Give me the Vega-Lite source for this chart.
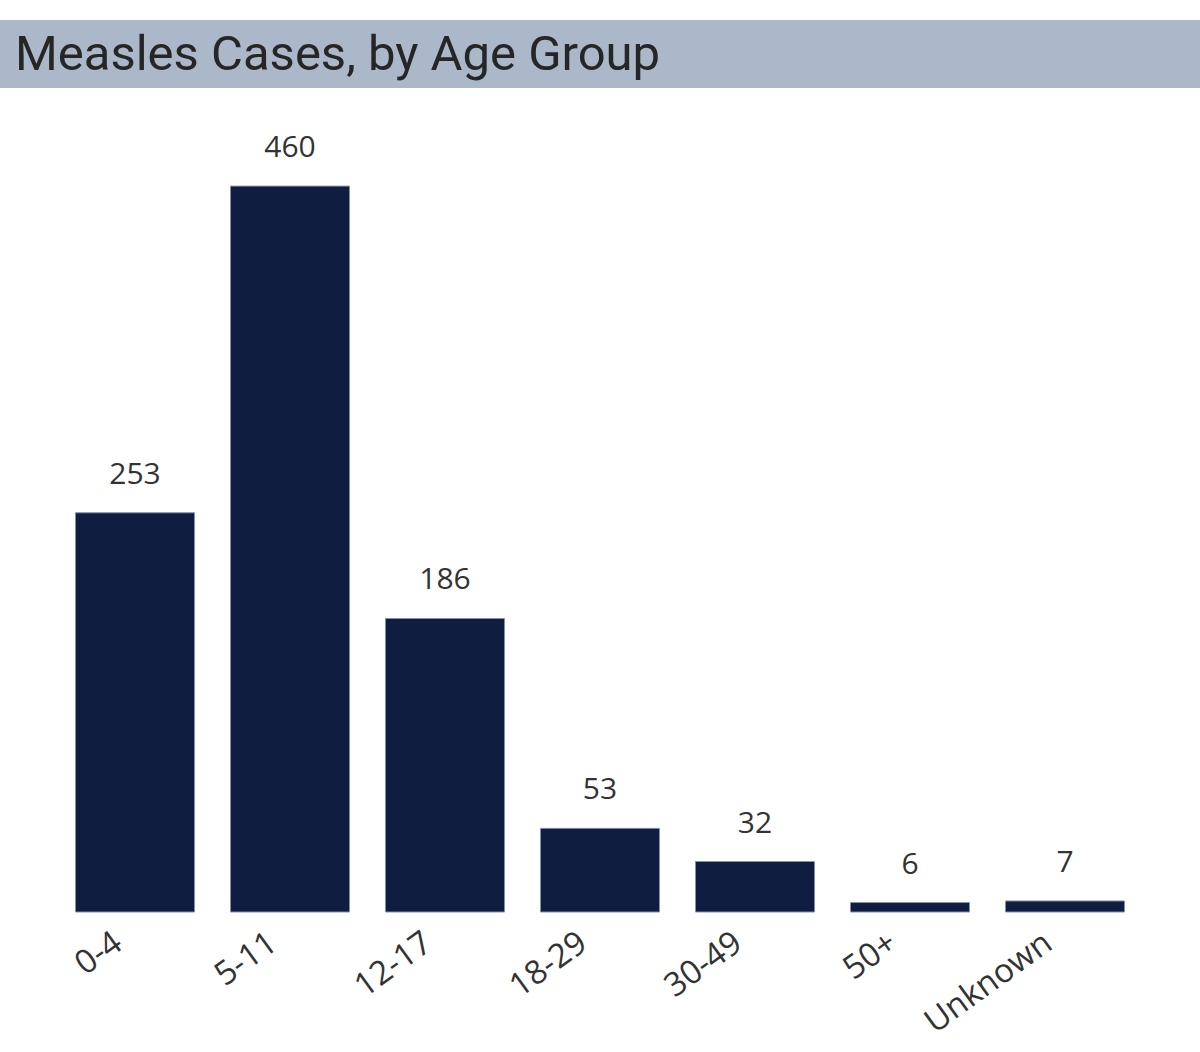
{
  "$schema": "https://vega.github.io/schema/vega-lite/v6.json",
  "background": "white",
  "padding": {"left": 0, "top": 20, "right": 0, "bottom": 0},
  "spacing": 35,
  "bounds": "flush",
  "config": {"view": {"stroke": null}},
  "vconcat": [
    {
      "width": 1200,
      "height": 68,
      "view": {"fill": "#aab8c9", "stroke": null},
      "data": {"values": [{"title": "Measles Cases, by Age Group"}]},
      "mark": {"type": "text", "align": "left", "baseline": "middle", "font": "Roboto", "fontSize": 49, "color": "#262626", "dy": 1},
      "encoding": {
        "text": {"field": "title"},
        "x": {"datum": 0.0125, "scale": {"domain": [0, 1]}, "axis": null},
        "y": {"datum": 0.5, "scale": {"domain": [0, 1]}, "axis": null}
      }
    },
    {
      "width": 1200,
      "height": 789,
      "data": {"values": [
        {"age": "0-4", "cases": 253},
        {"age": "5-11", "cases": 460},
        {"age": "12-17", "cases": 186},
        {"age": "18-29", "cases": 53},
        {"age": "30-49", "cases": 32},
        {"age": "50+", "cases": 6},
        {"age": "Unknown", "cases": 7}
      ]},
      "encoding": {
        "x": {
          "field": "age", "type": "nominal", "sort": null,
          "scale": {"paddingInner": 0.232, "paddingOuter": 0.487},
          "axis": {"title": null, "domain": false, "ticks": false, "labelAngle": -36, "labelFont": "Open Sans", "labelFontSize": 33, "labelColor": "#333333", "labelPadding": 14, "labelOffset": -26}
        },
        "y": {"field": "cases", "type": "quantitative", "scale": {"domain": [0, 500], "nice": false}, "axis": null}
      },
      "layer": [
        {"mark": {"type": "bar", "color": "#0f1d40", "stroke": "#8391ab", "strokeWidth": 1}},
        {"mark": {"type": "text", "baseline": "alphabetic", "dy": -29, "font": "Open Sans", "fontSize": 30, "color": "#333333"},
         "encoding": {"text": {"field": "cases", "type": "quantitative"}}}
      ]
    }
  ]
}
